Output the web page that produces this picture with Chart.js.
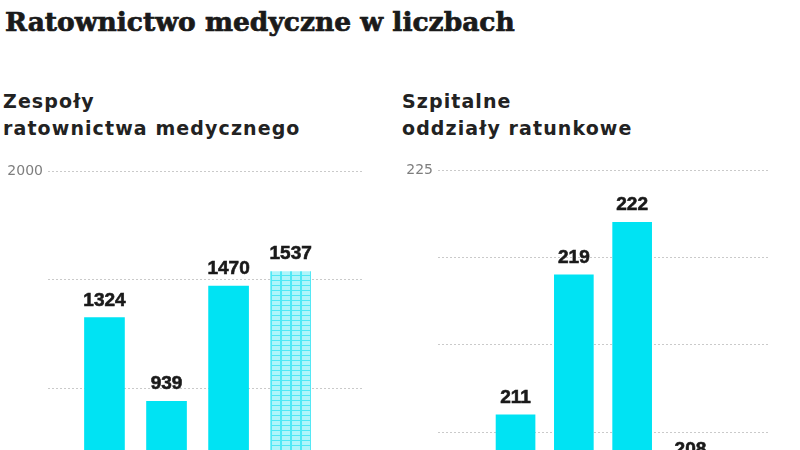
<!DOCTYPE html>
<html lang="pl">
<head>
<meta charset="utf-8">
<script src="https://cdn.jsdelivr.net/npm/chart.js@4"></script>
<style>
  html, body { margin: 0; padding: 0; }
  body { width: 800px; height: 450px; overflow: hidden; position: relative; background: #fff; }
  #title { position: absolute; left: 5px; top: 6px; margin: 0; font: bold 26.5px "DejaVu Serif", serif; color: #1a1a1a; white-space: nowrap; -webkit-text-stroke: 0.7px #1a1a1a; }
  .sub { position: absolute; top: 88px; margin: 0; font: bold 19px "DejaVu Sans", sans-serif; letter-spacing: 1.1px; line-height: 27px; color: #222; white-space: nowrap; }
  #subLeft { left: 3px; }
  #subRight { left: 402px; }
  .box { position: absolute; top: 150px; height: 480px; }
  #boxLeft { left: 0; width: 380px; }
  #boxRight { left: 380px; width: 420px; }
</style>
</head>
<body>
<h1 id="title">Ratownictwo medyczne w liczbach</h1>
<p class="sub" id="subLeft">Zespoły<br>ratownictwa medycznego</p>
<p class="sub" id="subRight">Szpitalne<br>oddziały ratunkowe</p>
<div class="box" id="boxLeft"><canvas id="leftChart"></canvas></div>
<div class="box" id="boxRight"><canvas id="rightChart"></canvas></div>
<script>
// categories sit below the visible crop, so they are kept only as positions
var categories = ["1", "2", "3", "4"];
var zespolyValues = [1324, 939, 1470, 1537]; // last bar is the hatched one
var oddzialyValues = [211, 219, 222, 208];
var zespolyTicks = [0, 500, 1000, 1500, 2000];
var oddzialyTicks = [200, 205, 210, 215, 220, 225];

var cyan = "#00e3f3";

// hatched fill for the last (forecast) bar
function hatch() {
  var c = document.createElement("canvas");
  c.width = 10; c.height = 5;
  var g = c.getContext("2d");
  g.fillStyle = "#aef5fb";
  g.fillRect(0, 0, 10, 5);
  g.fillStyle = "#4fe8f5";
  g.fillRect(0, 0, 10, 1);
  g.fillRect(0, 0, 2, 5);
  return g.createPattern(c, "repeat");
}

// value labels above each bar
var valueLabels = {
  id: "valueLabels",
  afterDatasetsDraw: function (chart) {
    var ctx = chart.ctx;
    var meta = chart.getDatasetMeta(0);
    ctx.save();
    ctx.font = "bold 19px 'Liberation Sans', sans-serif";
    ctx.fillStyle = "#1a1a1a";
    ctx.strokeStyle = "#1a1a1a";
    ctx.lineWidth = 0.6;
    ctx.textAlign = "center";
    ctx.textBaseline = "alphabetic";
    meta.data.forEach(function (bar, i) {
      var txt = String(chart.data.datasets[0].data[i].y);
      ctx.fillText(txt, bar.x, bar.y - 12);
      ctx.strokeText(txt, bar.x, bar.y - 12);
    });
    ctx.restore();
  }
};

function makeChart(id, values, ticks, colors, xMin, xMax, yAxisWidth, pad, thickness) {
  var ctx = document.getElementById(id).getContext("2d");
  return new Chart(ctx, {
    type: "bar",
    data: {
      datasets: [{
        data: values.map(function (v, i) { return { x: i, y: v, label: categories[i] }; }),
        backgroundColor: colors,
        borderWidth: 0,
        barThickness: thickness
      }]
    },
    options: {
      responsive: true,
      maintainAspectRatio: false,
      animation: false,
      layout: { padding: pad },
      plugins: { legend: { display: false }, tooltip: { enabled: false } },
      scales: {
        x: { type: "linear", display: false, offset: false, min: xMin, max: xMax },
        y: {
          min: ticks[0],
          max: ticks[ticks.length - 1],
          afterBuildTicks: function (axis) {
            axis.ticks = ticks.map(function (v) { return { value: v }; });
          },
          afterFit: function (axis) { axis.width = yAxisWidth; },
          grid: { color: "#cacaca", lineWidth: 1, drawTicks: false },
          border: { display: false, dash: [2, 2] },
          ticks: {
            padding: 5,
            color: "#7e7e7e",
            font: { family: "DejaVu Sans", size: 14 },
            callback: function (v) { return v === ticks[ticks.length - 1] ? String(v) : ""; }
          }
        }
      }
    },
    plugins: [valueLabels]
  });
}

var pattern = hatch();
makeChart("leftChart", zespolyValues, zespolyTicks,
  [cyan, cyan, cyan, pattern], -0.91, 4.15, 48,
  { top: 21, bottom: 25, left: 0, right: 18 }, 40);
makeChart("rightChart", oddzialyValues, oddzialyTicks,
  [cyan, cyan, cyan, cyan], -1.33, 4.33, 58,
  { top: 20, bottom: 23, left: 0, right: 32 }, 39);
</script>
</body>
</html>
